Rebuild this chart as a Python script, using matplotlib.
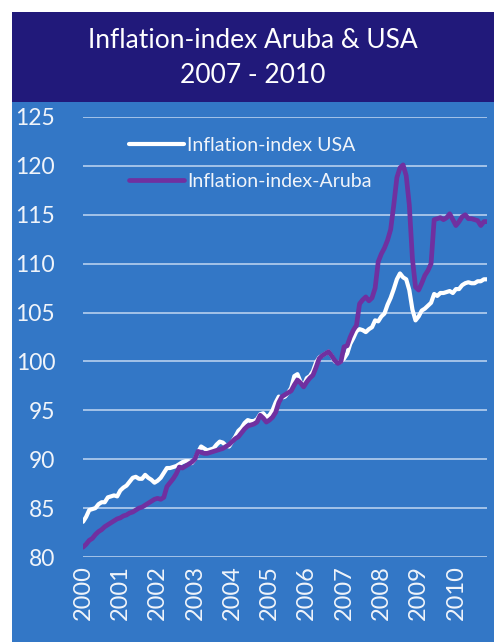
import numpy as np
import matplotlib
matplotlib.use("Agg")
import matplotlib.pyplot as plt
from matplotlib.patches import Rectangle

plt.rcParams['font.family'] = ['Lato', 'DejaVu Sans']

title = "Inflation-index Aruba & USA\n2007 - 2010"
label_usa = "Inflation-index USA"
label_aruba = "Inflation-index-Aruba"
year_labels = [str(y) for y in range(2000, 2011)]

# monthly index, Jan 2000 - Nov 2010
usa = [
    83.6, 84.1, 84.8, 84.9, 85.0, 85.4, 85.6, 85.6, 86.1, 86.2, 86.3, 86.2,
    86.8, 87.1, 87.3, 87.7, 88.1, 88.2, 88.0, 88.0, 88.4, 88.1, 87.9, 87.6,
    87.8, 88.1, 88.6, 89.1, 89.1, 89.2, 89.3, 89.5, 89.7, 89.8, 89.8, 89.6,
    90.0, 90.7, 91.3, 91.1, 90.9, 91.0, 91.1, 91.5, 91.8, 91.7, 91.4, 91.3,
    91.8, 92.3, 92.9, 93.2, 93.7, 94.0, 93.9, 93.9, 94.1, 94.6, 94.7, 94.3,
    94.5, 95.0, 95.8, 96.4, 96.3, 96.4, 96.8, 97.3, 98.5, 98.7, 97.9, 97.5,
    98.3, 98.5, 99.0, 99.9, 100.4, 100.6, 100.8, 101.0, 100.6, 100.0, 99.9, 100.0,
    100.3, 100.8, 101.8, 102.4, 103.1, 103.3, 103.2, 103.0, 103.3, 103.5, 104.2, 104.1,
    104.6, 104.9, 105.8, 106.5, 107.4, 108.4, 109.0, 108.6, 108.4, 107.3, 105.3, 104.2,
    104.6, 105.2, 105.4, 105.7, 106.0, 106.9, 106.7, 107.0, 107.0, 107.1, 107.2, 107.0,
    107.4, 107.4, 107.8, 108.0, 108.1, 108.0, 108.0, 108.2, 108.2, 108.4, 108.4,
]

aruba = [
    81.0, 81.3, 81.7, 81.9, 82.3, 82.6, 82.8, 83.1, 83.3, 83.5, 83.7, 83.9,
    84.0, 84.2, 84.3, 84.5, 84.6, 84.8, 85.0, 85.1, 85.3, 85.5, 85.7, 85.9,
    86.0, 85.9, 86.1, 87.2, 87.6, 88.0, 88.5, 89.2, 89.1, 89.3, 89.5, 89.7,
    90.0, 90.8, 90.7, 90.6, 90.6, 90.7, 90.8, 90.9, 91.0, 91.1, 91.3, 91.5,
    91.8, 92.1, 92.3, 92.7, 93.1, 93.4, 93.5, 93.6, 93.8, 94.5, 94.2, 93.8,
    94.0, 94.3, 94.8, 95.8, 96.4, 96.6, 96.8, 97.0, 97.6, 98.1, 97.8, 97.4,
    97.9, 98.3, 98.6, 99.4, 100.3, 100.6, 100.8, 101.0, 100.6, 100.1, 99.8, 100.0,
    101.5, 101.6, 102.5, 103.2, 103.7, 105.9, 106.3, 106.6, 106.2, 106.5, 107.5, 110.2,
    111.0, 111.6, 112.4, 113.5, 116.0, 118.8, 119.8, 120.1, 119.0, 116.0, 110.5, 107.6,
    107.3, 108.0, 108.8, 109.3, 110.0, 114.5, 114.6, 114.7, 114.5, 114.7, 115.1, 114.5,
    113.9, 114.3, 114.8, 115.0, 114.6, 114.6, 114.5, 114.4, 113.9, 114.3, 114.3,
]

W, H = 494, 642
fig = plt.figure(figsize=(W / 100, H / 100), dpi=100)
fig.patch.set_facecolor("white")

navy = "#21197A"
blue = "#3377C6"
txt = "#F0F4FA"

# chart frame: blue body and navy title band (behind the axes)
fig.patches.append(Rectangle((12 / W, 0), 1, 1 - 102 / H, transform=fig.transFigure,
                             facecolor=blue, edgecolor="none", zorder=-10))
fig.patches.append(Rectangle((12 / W, 1 - 102 / H), 1, 90 / H, transform=fig.transFigure,
                             facecolor=navy, edgecolor="none", zorder=-10))
fig.text((12 + W) / 2 / W, 1 - 58 / H, title, color="white", fontsize=19,
         ha="center", va="center", linespacing=1.5)

ax = fig.add_axes([83 / W, 1 - 557 / H, 404 / W, 440 / H])
ax.set_facecolor("none")
ax.set_zorder(5)

x = np.arange(len(usa))
ax.plot(x, usa, color="white", lw=3.0, label=label_usa, solid_capstyle="round", zorder=3)
ax.plot(x, aruba, color="#7030A0", lw=3.4, label=label_aruba, solid_capstyle="round", zorder=4)

ax.set_xlim(0, len(usa) - 1)
ax.set_ylim(80, 125)
ax.set_yticks(range(80, 126, 5))
ax.set_xticks(range(0, len(usa), 12))
ax.set_xticklabels(year_labels, rotation=90)
ax.grid(axis="y", color="#B7CFEE", lw=1.2)
ax.set_axisbelow(True)
ax.tick_params(axis="y", length=0, pad=20, labelsize=16.5, labelcolor=txt)
ax.tick_params(axis="x", length=0, pad=6, labelsize=17, labelcolor=txt)
for s in ax.spines.values():
    s.set_visible(False)

leg = ax.legend(loc="upper left", bbox_to_anchor=(0.07, 0.995), frameon=False,
                fontsize=14, handlelength=2.85, handletextpad=0.15, labelspacing=1.0)
for t in leg.get_texts():
    t.set_color(txt)

fig.savefig("out.png", dpi=100)
